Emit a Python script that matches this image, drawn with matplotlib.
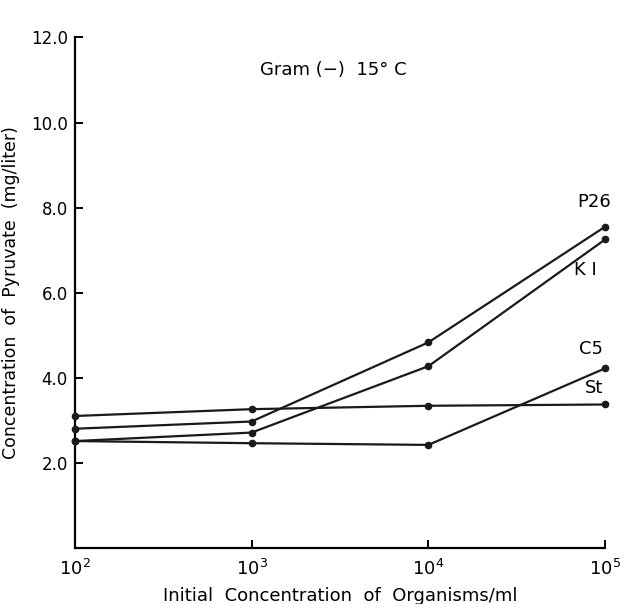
import matplotlib.pyplot as plt
import numpy as np

# initial concentration of organisms/ml
conc = [1e2, 1e3, 1e4, 1e5]

# pyruvate (mg/liter)
p26 = [2.80, 2.97, 4.83, 7.55]
k1 = [2.51, 2.71, 4.27, 7.25]
c5 = [2.51, 2.46, 2.42, 4.22]
st = [3.10, 3.26, 3.34, 3.37]

series = [('P26', p26), ('K1', k1), ('C5', c5), ('St', st)]
label_text = {'P26': 'P26', 'K1': 'K I', 'C5': 'C5', 'St': 'St'}
# label offsets (points) relative to last point
label_off = {'P26': (-8, 18), 'K1': (-14, -22), 'C5': (-10, 14), 'St': (-8, 12)}

yticks = [2.0, 4.0, 6.0, 8.0, 10.0, 12.0]

fig = plt.figure(figsize=(6.29, 6.04), dpi=100)
ax = fig.add_axes([0.119, 0.093, 0.843, 0.845])

for name, vals in series:
    ax.plot(conc, vals, color='#1a1a1a', lw=1.6, marker='o', ms=4.5,
            clip_on=False, zorder=3)
    ax.annotate(label_text[name], (conc[-1], vals[-1]), xytext=label_off[name],
                textcoords='offset points', ha='center', va='center', fontsize=13)

ax.set_xscale('log')
ax.set_xlim(1e2, 1e5)
ax.set_ylim(0, 12)
ax.set_xticks(conc)
ax.set_xticklabels([r'$10^{2}$', r'$10^{3}$', r'$10^{4}$', r'$10^{5}$'])
ax.minorticks_off()
ax.set_yticks(yticks)
ax.set_yticklabels(['%.1f' % v for v in yticks])

ax.spines['top'].set_visible(False)
ax.spines['right'].set_visible(False)
for s in ['left', 'bottom']:
    ax.spines[s].set_linewidth(1.6)
ax.tick_params(direction='in', length=6, width=1.4, labelsize=12, pad=5)
ax.tick_params(axis='x', labelsize=13, pad=8)

ax.set_xlabel('Initial  Concentration  of  Organisms/ml', fontsize=13, labelpad=6)
ax.set_ylabel('Concentration  of  Pyruvate  (mg/liter)', fontsize=12.5, labelpad=8)

fig.text(0.53, 0.884, 'Gram (\u2212)  15\u00b0 C', ha='center', va='center', fontsize=13)

fig.savefig('out.png', dpi=100)
